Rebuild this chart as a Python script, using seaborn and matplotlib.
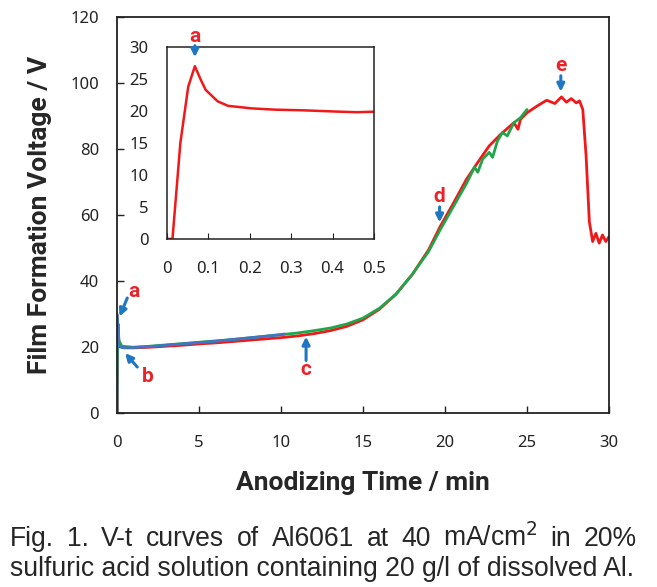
import numpy as np
import pandas as pd
import matplotlib
matplotlib.use("Agg")
import matplotlib.pyplot as plt
import seaborn as sns

sns.set_style("ticks")
plt.rcParams['font.family'] = ['Noto Sans', 'DejaVu Sans']

# red run (full 30 min)
red_t = [0.0, 0.014, 0.033, 0.052, 0.068, 0.082, 0.094, 0.123, 0.148, 0.205, 0.262, 0.328, 0.41, 0.459, 0.508,
         1, 2, 3, 4, 5, 6, 7, 8, 9, 10, 11, 12, 13, 14, 15, 16, 17, 18, 19, 19.7, 20.5, 21.3, 22, 22.7,
         23.4, 24.2, 24.45, 24.6, 25, 25.6, 26.2, 26.7, 27.1, 27.4, 27.7, 28.0, 28.2, 28.4, 28.6, 28.8,
         29.0, 29.2, 29.4, 29.6, 29.8, 30]
red_v = [0, 0, 15, 23.8, 27, 24.9, 23.3, 21.5, 20.8, 20.4, 20.2, 20.1, 19.9, 19.8, 19.9,
         19.8, 20.0, 20.3, 20.6, 21.0, 21.3, 21.7, 22.1, 22.5, 22.9, 23.4, 24.1, 25.0, 26.3, 28.3, 31.5,
         36.0, 42.0, 49.5, 56.5, 63.5, 70.8, 76.0, 81.0, 84.5, 88.0, 86.0, 89.0, 91.0, 93.0, 94.8, 93.8,
         95.8, 94.2, 95.3, 94.0, 94.6, 92.0, 78.0, 58.0, 52.0, 54.5, 51.5, 54.0, 52.0, 53.5]

# green run (to ~25 min)
green_t = [0.0, 0.02, 0.05, 0.07, 0.12, 0.3, 1, 2, 3, 4, 5, 6, 7, 8, 9, 10, 11, 12, 13, 14, 15, 16, 17, 18,
           19, 19.7, 20.5, 21.3, 21.8, 22.0, 22.3, 22.7, 22.9, 23.2, 23.5, 23.8, 24.2, 24.6, 25.0]
green_v = [0, 12, 24, 27, 22, 20.3, 20.0, 20.3, 20.7, 21.1, 21.5, 21.9, 22.3, 22.8, 23.3, 23.8, 24.3, 25.0,
           25.8, 27.0, 28.8, 31.8, 36.0, 42.0, 49.0, 55.5, 62.5, 69.5, 74.5, 73.0, 77.0, 79.0, 77.5, 82.5,
           85.0, 84.0, 88.0, 89.5, 92.0]

# blue run (to ~10 min)
blue_t = [0.0, 0.0, 0.01, 0.04, 0.07, 0.12, 0.3, 0.6, 1, 2, 3, 4, 5, 6, 7, 8, 9, 10, 10.2]
blue_v = [0, 30, 29.5, 25, 22, 20.5, 19.9, 19.8, 19.9, 20.2, 20.6, 21.0, 21.4, 21.8, 22.3, 22.8, 23.3, 23.8, 24.0]

runs = pd.concat([
    pd.DataFrame({"t": red_t, "V": red_v, "run": "red"}),
    pd.DataFrame({"t": green_t, "V": green_v, "run": "green"}),
    pd.DataFrame({"t": blue_t, "V": blue_v, "run": "blue"}),
])
colors = {"red": "#F01818", "green": "#1FA64A", "blue": "#4472C4"}

fig = plt.figure(figsize=(6.57, 5.87), dpi=100)
ax = fig.add_axes([0.178, 0.296, 0.749, 0.675])
for r in ["red", "green", "blue"]:
    d = runs[runs.run == r]
    sns.lineplot(data=d, x="t", y="V", color=colors[r], lw=2.0, sort=False,
                 estimator=None, ax=ax, legend=False)
ax.set_xlim(0, 30)
ax.set_ylim(0, 120)
ax.set_xticks(range(0, 31, 5))
ax.set_yticks(range(0, 121, 20))
ax.tick_params(direction="in", length=5, width=1, labelsize=12, colors="#222222")
ax.tick_params(axis="x", pad=16)
ax.tick_params(axis="y", pad=13)
for s in ax.spines.values():
    s.set_linewidth(1.3)
    s.set_color("#222222")
lab_font = dict(family=["Roboto", "DejaVu Sans"], fontsize=19, fontweight="bold")
ax.set_xlabel("Anodizing Time / min", labelpad=14, **lab_font)
ax.set_ylabel("Film Formation Voltage / V", labelpad=13, **lab_font)

red_c = "#E8242A"
blue_c = "#1F77C4"
letter_font = dict(family=["Roboto", "DejaVu Sans"], fontsize=15, fontweight="bold", color=red_c)
arrow = dict(arrowstyle="-|>", color=blue_c, lw=2.2, mutation_scale=11, shrinkA=0, shrinkB=0)
labels = [("a", (1.04, 36.9), (0.63, 34.9), (0.16, 29.3)),
          ("b", (1.9, 11.0), (1.24, 14.0), (0.5, 18.2)),
          ("c", (11.53, 13.3), (11.53, 16.0), (11.53, 23.2)),
          ("d", (19.67, 65.7), (19.67, 62.5), (19.67, 57.8)),
          ("e", (27.06, 105.3), (27.06, 102.2), (27.06, 97.4))]
for txt, tpos, tail, tip in labels:
    ax.annotate("", xy=tip, xytext=tail, arrowprops=arrow)
    ax.text(tpos[0], tpos[1], txt, ha="center", va="center", **letter_font)

# inset
ins = fig.add_axes([0.2537, 0.593, 0.3155, 0.327])
d = runs[runs.run == "red"]
sns.lineplot(data=d, x="t", y="V", color=colors["red"], lw=1.8, sort=False,
             estimator=None, ax=ins, legend=False)
ins.set_xlim(0, 0.5)
ins.set_ylim(0, 30)
ins.set_xticks([0, 0.1, 0.2, 0.3, 0.4, 0.5])
ins.set_xticklabels(["0", "0.1", "0.2", "0.3", "0.4", "0.5"])
ins.set_yticks(range(0, 31, 5))
ins.tick_params(axis="x", direction="in", length=4, labelsize=12, pad=16, colors="#222222")
ins.tick_params(axis="y", direction="in", length=0, labelsize=12, pad=13, colors="#222222")
ins.set_xlabel("")
ins.set_ylabel("")
for s in ins.spines.values():
    s.set_linewidth(1.1)
    s.set_color("#222222")
ins.annotate("", xy=(0.068, 28.4), xytext=(0.068, 30.2), arrowprops=arrow, annotation_clip=False)
ins.text(0.068, 31.6, "a", ha="center", va="center", **letter_font)

# caption, justified across the figure width
cap_font = dict(family="Liberation Sans", fontsize=15)
line1 = ["Fig.", "1.", "V-t", "curves", "of", "Al6061", "at", "40", r"mA/cm$^2$", "in", "20%"]
line2 = "sulfuric acid solution containing 20 g/l of dissolved Al."
fig.canvas.draw()
r = fig.canvas.get_renderer()
W, H = fig.bbox.width, fig.bbox.height
left_px, right_px = 10, 637
t2 = fig.text(left_px / W, 1 - 576 / H, line2, va="baseline", ha="left", **cap_font)
w2 = t2.get_window_extent(r).width
size = 15 * ((right_px - left_px - 2) / w2)
t2.set_fontsize(size)
words = [fig.text(0, 1 - 546 / H, w, va="baseline", ha="left", **dict(cap_font, fontsize=size)) for w in line1]
fig.canvas.draw()
widths = [w.get_window_extent(r).width for w in words]
gap = (right_px - left_px - sum(widths)) / (len(words) - 1)
x = left_px
for w, wd in zip(words, widths):
    w.set_x(x / W)
    x += wd + gap

fig.savefig("out.png", dpi=100)
